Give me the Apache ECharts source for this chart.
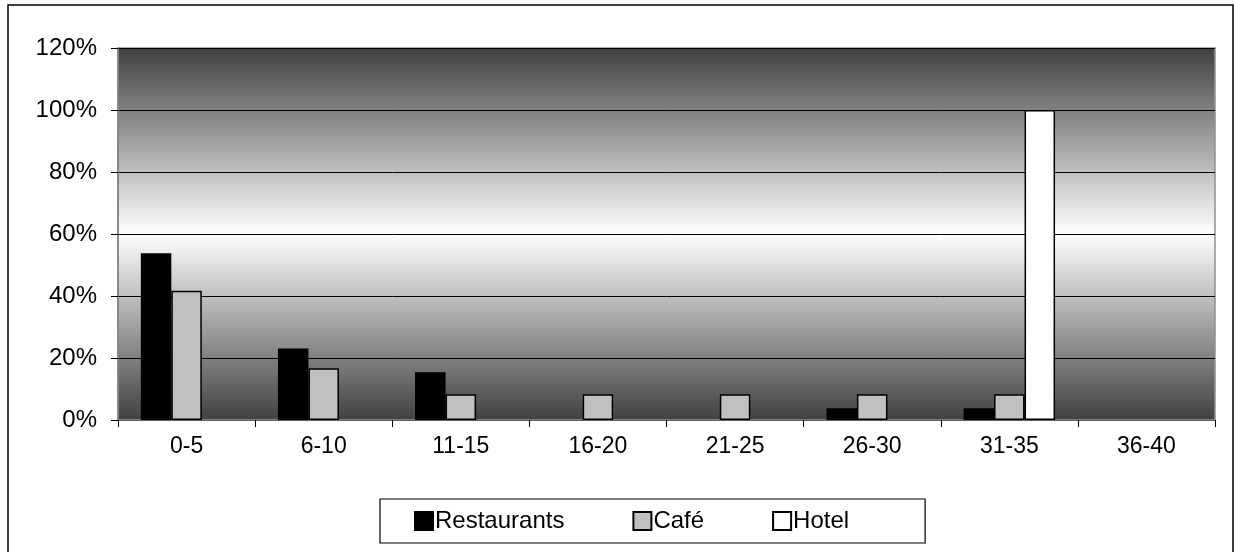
<!DOCTYPE html>
<html>
<head>
<meta charset="utf-8">
<script src="https://cdn.jsdelivr.net/npm/echarts@6/dist/echarts.min.js"></script>
<style>
  html, body { margin: 0; padding: 0; background: #fff; }
  #chart { width: 1235px; height: 552px; }
</style>
</head>
<body>
<div id="chart"></div>
<script>
// Share of establishments by size band (percent)
const categories = ['0-5', '6-10', '11-15', '16-20', '21-25', '26-30', '31-35', '36-40'];
const restaurants = [53.8, 23.1, 15.4, 0, 0, 3.8, 3.8, 0];
const cafe = [41.7, 16.7, 8.3, 8.3, 8.3, 8.3, 8.3, 0];
const hotel = [0, 0, 0, 0, 0, 0, 100, 0];
const yTicks = { min: 0, max: 120, interval: 20 };

const FONT = 'Liberation Sans, Arial, sans-serif';
const chart = echarts.init(document.getElementById('chart'), null, { renderer: 'canvas' });

function barSeries(name, data, fill) {
  return {
    name: name,
    type: 'bar',
    // empty bands carry no bar at all (no outline along the baseline)
    data: data.map(v => (v === 0 ? '-' : v)),
    barGap: '0%',
    barCategoryGap: '33.3%',
    itemStyle: { color: fill, borderColor: '#000', borderWidth: 1.5 },
    emphasis: { disabled: true }
  };
}

chart.setOption({
  animation: false,
  backgroundColor: '#fff',
  textStyle: { fontFamily: FONT },
  graphic: [{
    type: 'rect',
    shape: { x: 8, y: 5, width: 1225, height: 560 },
    style: { fill: 'none', stroke: '#000', lineWidth: 1.5 },
    silent: true,
    z: 100
  }],
  grid: {
    left: 118, right: 20, top: 48, bottom: 132,
    show: true,
    borderColor: '#909090',
    borderWidth: 1.5,
    backgroundColor: new echarts.graphic.LinearGradient(0, 0, 0, 1, [
      { offset: 0, color: '#404040' },
      { offset: 0.5, color: '#ffffff' },
      { offset: 1, color: '#404040' }
    ])
  },
  legend: {
    left: 380, top: 499,
    orient: 'horizontal',
    icon: 'rect',
    itemWidth: 18, itemHeight: 18,
    itemGap: 68,
    padding: [10, 76, 10, 34],
    borderColor: '#000', borderWidth: 1.2,
    textStyle: { fontSize: 24, color: '#000', fontFamily: FONT, padding: [0, 0, 0, -3] },
    data: ['Restaurants', 'Café', 'Hotel']
  },
  xAxis: {
    type: 'category',
    data: categories,
    boundaryGap: true,
    axisLine: { lineStyle: { color: '#808080', width: 1.5 } },
    axisTick: { show: true, length: 7, lineStyle: { color: '#000', width: 1 } },
    axisLabel: { color: '#000', fontSize: 23, margin: 15, fontFamily: FONT }
  },
  yAxis: {
    type: 'value',
    min: yTicks.min, max: yTicks.max, interval: yTicks.interval,
    axisLine: { show: true, lineStyle: { color: '#808080', width: 1.5 } },
    axisTick: { show: true, length: 7, lineStyle: { color: '#000', width: 1 } },
    axisLabel: { color: '#000', fontSize: 24, margin: 21, formatter: '{value}%', fontFamily: FONT },
    splitLine: { show: true, lineStyle: { color: '#000', width: 1 } }
  },
  series: [
    barSeries('Restaurants', restaurants, '#000000'),
    barSeries('Café', cafe, '#c0c0c0'),
    barSeries('Hotel', hotel, '#ffffff')
  ]
});
</script>
</body>
</html>
